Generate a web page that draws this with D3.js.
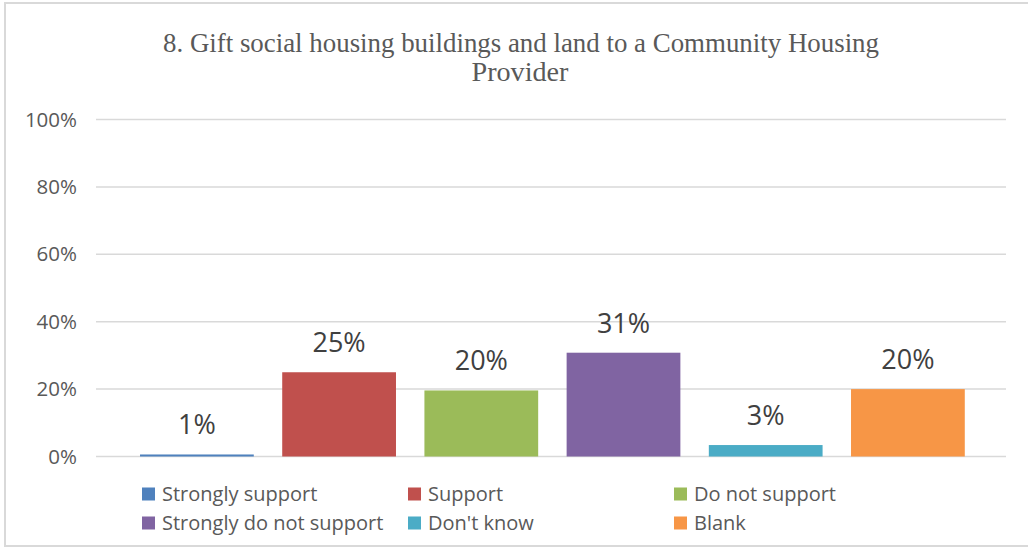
<!DOCTYPE html>
<html>
<head>
<meta charset="utf-8">
<script src="https://cdn.jsdelivr.net/npm/d3@7"></script>
<style>
  html, body { margin: 0; padding: 0; background: #fff; }
  svg { display: block; }
</style>
</head>
<body>
<svg id="chart" width="1028" height="547"></svg>
<script>
// Survey responses for question 8
const categories = ["Strongly support", "Support", "Do not support", "Strongly do not support", "Don't know", "Blank"];
const values = [0.006, 0.250, 0.196, 0.308, 0.034, 0.200];
const colors = ["#4f81bd", "#c0504d", "#9bbb59", "#8064a2", "#4bacc6", "#f79646"];
const yTicks = [0, 0.2, 0.4, 0.6, 0.8, 1.0];
const titleLines = ["8. Gift social housing buildings and land to a Community Housing", "Provider"];

const svg = d3.select("#chart");
const sansFont = "'Open Sans', 'Noto Sans', sans-serif";

// chart frame
svg.append("rect")
  .attr("x", 5).attr("y", 3)
  .attr("width", 1040).attr("height", 543)
  .attr("fill", "#fff")
  .attr("stroke", "#d9d9d9").attr("stroke-width", 2);

// plot area
const plot = { left: 96, right: 1006, top: 119.5, bottom: 456.5 };

const y = d3.scaleLinear().domain([0, 1]).range([plot.bottom, plot.top]);
const x = d3.scaleBand()
  .domain(categories)
  .range([plot.left + 29.8, plot.right - 27])
  .paddingInner(0.2)
  .paddingOuter(0.1);

// title
const title = svg.append("text")
  .attr("text-anchor", "middle")
  .attr("font-family", "'Liberation Serif', 'DejaVu Serif', serif")
  .attr("font-size", 28)
  .attr("fill", "#595959");
title.append("tspan").attr("x", 521).attr("y", 52).text(titleLines[0])
  .attr("textLength", 716).attr("lengthAdjust", "spacingAndGlyphs");
title.append("tspan").attr("x", 520).attr("y", 81).text(titleLines[1])
  .attr("textLength", 97).attr("lengthAdjust", "spacingAndGlyphs");

// gridlines
svg.append("g")
  .selectAll("line")
  .data(yTicks)
  .join("line")
  .attr("x1", plot.left).attr("x2", plot.right)
  .attr("y1", d => y(d)).attr("y2", d => y(d))
  .attr("stroke", "#d9d9d9").attr("stroke-width", 1.5);

// y axis labels
const yAxis = d3.axisLeft(y).tickValues(yTicks).tickFormat(d3.format(".0%")).tickSize(0).tickPadding(0);
const yAxisG = svg.append("g")
  .attr("transform", `translate(${plot.left - 19},0)`)
  .call(yAxis);
yAxisG.select(".domain").remove();
yAxisG.selectAll("text")
  .attr("font-family", sansFont)
  .attr("font-size", 20.5)
  .attr("fill", "#595959");

// bars
svg.append("g")
  .selectAll("rect")
  .data(values)
  .join("rect")
  .attr("x", (d, i) => x(categories[i]))
  .attr("width", x.bandwidth())
  .attr("y", d => y(d))
  .attr("height", d => y(0) - y(d))
  .attr("fill", (d, i) => colors[i]);

// value labels
svg.append("g")
  .selectAll("text")
  .data(values)
  .join("text")
  .attr("x", (d, i) => x(categories[i]) + x.bandwidth() / 2)
  .attr("y", d => y(d) - 20)
  .attr("text-anchor", "middle")
  .attr("font-family", sansFont)
  .attr("font-size", 27)
  .attr("fill", "#404040")
  .text(d => d3.format(".0%")(d));

// legend: three columns, two rows
const legendCols = [142, 408, 674];
const legendRows = [494, 523];
const legend = svg.append("g")
  .selectAll("g")
  .data(categories)
  .join("g")
  .attr("transform", (d, i) => `translate(${legendCols[i % 3]},${legendRows[Math.floor(i / 3)]})`);
legend.append("rect")
  .attr("x", 0).attr("y", -6.5)
  .attr("width", 13).attr("height", 13)
  .attr("fill", (d, i) => colors[i]);
legend.append("text")
  .attr("x", 20).attr("y", 0)
  .attr("dy", "0.35em")
  .attr("font-family", sansFont)
  .attr("font-size", 20)
  .attr("fill", "#595959")
  .text(d => d);
</script>
</body>
</html>
